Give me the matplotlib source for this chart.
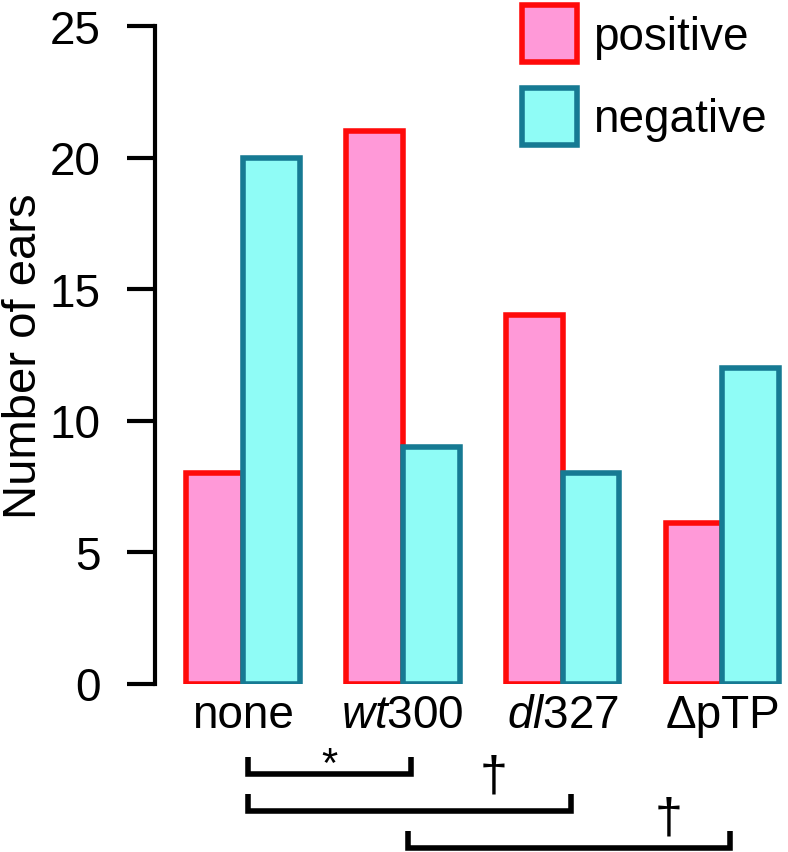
import matplotlib
matplotlib.use("Agg")
import matplotlib.pyplot as plt
import numpy as np

plt.rcParams['font.family'] = ['Liberation Sans', 'DejaVu Sans']
plt.rcParams['mathtext.fontset'] = 'custom'
plt.rcParams['mathtext.rm'] = 'Liberation Sans'
plt.rcParams['mathtext.it'] = 'Liberation Sans:italic'

# data
groups = ['none', r'$\mathit{wt}$300', r'$\mathit{dl}$327', '\u0394pTP']
positive = [8, 21, 14, 6.1]
negative = [20, 9, 8, 12]
# significance brackets: (from group, to group, level, mark, mark x, mark y)
brackets = [(0, 1, 0, '*', 0.54, -3.1),
            (0, 2, 1, '\u2020', 1.57, -3.55),
            (1, 3, 2, '\u2020', 2.66, -5.15)]

fig = plt.figure(figsize=(7.88, 8.53), dpi=100)
ax = fig.add_axes([155 / 788, 1 - 684.5 / 853, 1 - 155 / 788, (684.5 - 27) / 853])

x = np.arange(len(groups))
w = 0.355
fs = 33
ax.bar(x - w / 2, positive, w, color='#ff99d8', edgecolor='#ff0a0a',
       linewidth=4, label='positive', zorder=3)
ax.bar(x + w / 2, negative, w, color='#8ffcf6', edgecolor='#167a93',
       linewidth=4, label='negative', zorder=3)

ax.set_xlim(-0.55, 3.41)
ax.set_ylim(0, 25)
ax.set_yticks([0, 5, 10, 15, 20, 25])
ax.set_xticks(x)
ax.set_xticklabels(groups, fontsize=fs)
ax.tick_params(axis='x', length=0, pad=7)
ax.tick_params(axis='y', length=20, width=3, pad=19, labelsize=fs, direction='out')
for s in ['top', 'right', 'bottom']:
    ax.spines[s].set_visible(False)
ax.spines['left'].set_linewidth(3)
ax.spines['left'].set_capstyle('projecting')

ax.set_ylabel('Number of ears', fontsize=34)
ax.yaxis.set_label_coords(-0.172, 0.5)

leg = ax.legend(loc='upper left', bbox_to_anchor=(522 / 788, 1 - 6 / 853),
                bbox_transform=fig.transFigure, frameon=False, fontsize=fs,
                borderpad=0, borderaxespad=0, handlelength=1.2, handleheight=1.55,
                handletextpad=0.35, labelspacing=0.55)

# brackets below the axis
unit = (684.5 - 27) / 25
levels = [-(775 - 684.5) / unit, -(812 - 684.5) / unit, -(849 - 684.5) / unit]
tick_h = 0.65
for g0, g1, lev, mark, mx, my in brackets:
    y0 = levels[lev]
    x0 = g0 + 0.03
    x1 = g1 + 0.05
    ax.plot([x0, x0, x1, x1], [y0 + tick_h, y0, y0, y0 + tick_h], color='black',
            lw=4, clip_on=False, solid_joinstyle='miter', solid_capstyle='butt')
    size = 30 if mark == '*' else 36
    ax.text(mx, my, mark, ha='center', va='center', fontsize=size, clip_on=False)

fig.savefig('out.png', dpi=100)
